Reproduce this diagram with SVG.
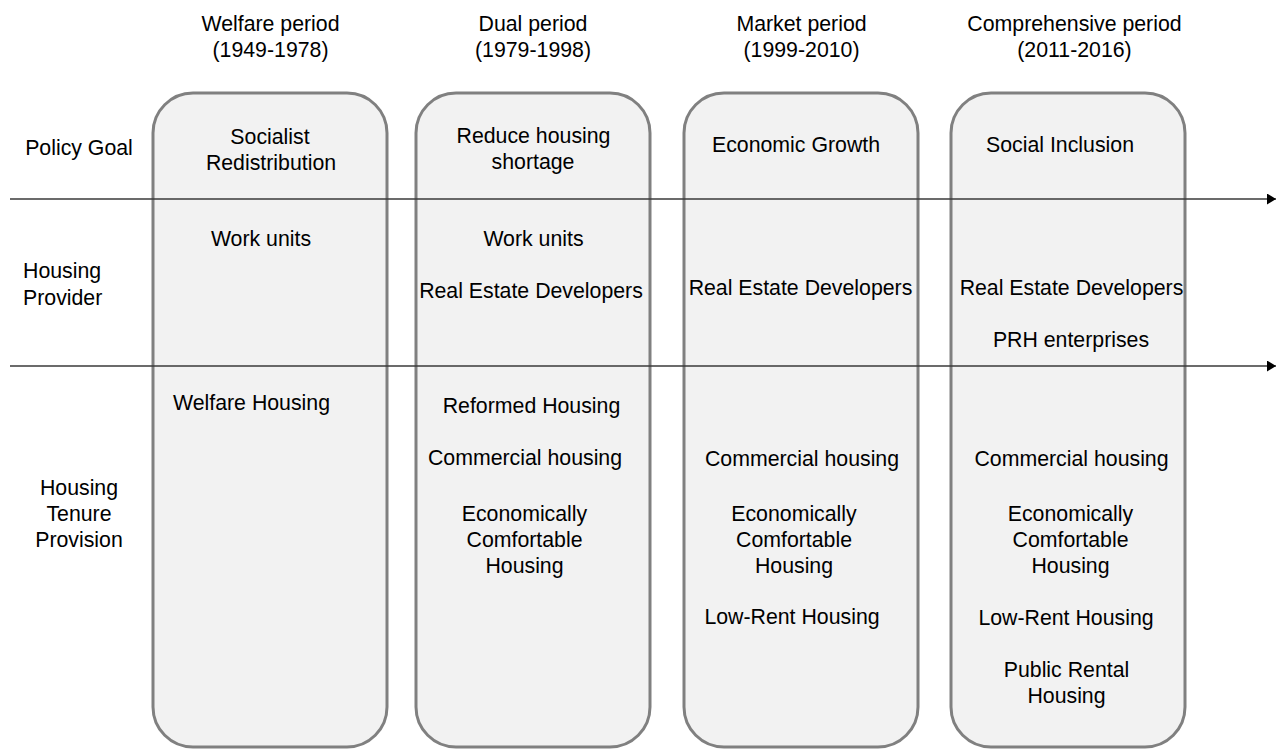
<svg xmlns="http://www.w3.org/2000/svg" width="1276" height="749" viewBox="0 0 1276 749">
<defs>
<style>
text{font-family:"Liberation Sans",Arial,sans-serif;font-size:21.3px;fill:#000;text-anchor:middle}
.l{text-anchor:start}
.box{fill:#f2f2f2;stroke:#808080;stroke-width:3}
.conn{stroke:#3a3a3a;stroke-width:1.6;fill:none;marker-end:url(#arr)}
</style>
<marker id="arr" viewBox="0 0 9 11" refX="9" refY="5.5" markerWidth="9" markerHeight="11" markerUnits="userSpaceOnUse" orient="auto">
<path d="M0,0 L9,5.5 L0,11 z" fill="#000"/>
</marker>
</defs>
<rect width="1276" height="749" fill="#fff"/>
<g id="headers">
<text x="270.5" y="31">Welfare period</text><text x="270.5" y="57">(1949-1978)</text>
<text x="533" y="31">Dual period</text><text x="533" y="57">(1979-1998)</text>
<text x="801.5" y="31">Market period</text><text x="801.5" y="57">(1999-2010)</text>
<text x="1074.5" y="31">Comprehensive period</text><text x="1074.5" y="57">(2011-2016)</text>
</g>
<g id="row-labels">
<text x="79" y="155">Policy Goal</text>
<text class="l" x="23" y="278">Housing</text><text class="l" x="23" y="305">Provider</text>
<text x="79" y="495">Housing</text><text x="79" y="521">Tenure</text><text x="79" y="547">Provision</text>
</g>
<g id="welfare">
<rect class="box" x="153" y="93" width="234" height="654" rx="40" ry="40"/>
<text x="270" y="144">Socialist</text><text x="271" y="170">Redistribution</text>
<text x="261" y="246">Work units</text>
<text x="251.5" y="410">Welfare Housing</text>
</g>
<g id="dual">
<rect class="box" x="416" y="93" width="234" height="654" rx="40" ry="40"/>
<text x="533.5" y="143">Reduce housing</text><text x="533" y="169">shortage</text>
<text x="533.5" y="246">Work units</text>
<text x="531" y="298">Real Estate Developers</text>
<text x="531.5" y="413">Reformed Housing</text>
<text x="525" y="465">Commercial housing</text>
<text x="524.5" y="521">Economically</text><text x="524.5" y="547">Comfortable</text><text x="524.5" y="573">Housing</text>
</g>
<g id="market">
<rect class="box" x="684" y="93" width="234" height="654" rx="40" ry="40"/>
<text x="796" y="152">Economic Growth</text>
<text x="800.5" y="295">Real Estate Developers</text>
<text x="802" y="466">Commercial housing</text>
<text x="794" y="521">Economically</text><text x="794" y="547">Comfortable</text><text x="794" y="573">Housing</text>
<text x="792" y="624">Low-Rent Housing</text>
</g>
<g id="comprehensive">
<rect class="box" x="951" y="93" width="234" height="654" rx="40" ry="40"/>
<text x="1060" y="152">Social Inclusion</text>
<text x="1071.5" y="295">Real Estate Developers</text>
<text x="1071" y="347">PRH enterprises</text>
<text x="1071.5" y="466">Commercial housing</text>
<text x="1070.5" y="521">Economically</text><text x="1070.5" y="547">Comfortable</text><text x="1070.5" y="573">Housing</text>
<text x="1066" y="625">Low-Rent Housing</text>
<text x="1066.5" y="677">Public Rental</text><text x="1066.5" y="703">Housing</text>
</g>
<g id="connectors">
<line class="conn" x1="10" y1="199" x2="1276" y2="199"/>
<line class="conn" x1="10" y1="366" x2="1276" y2="366"/>
</g>
</svg>
